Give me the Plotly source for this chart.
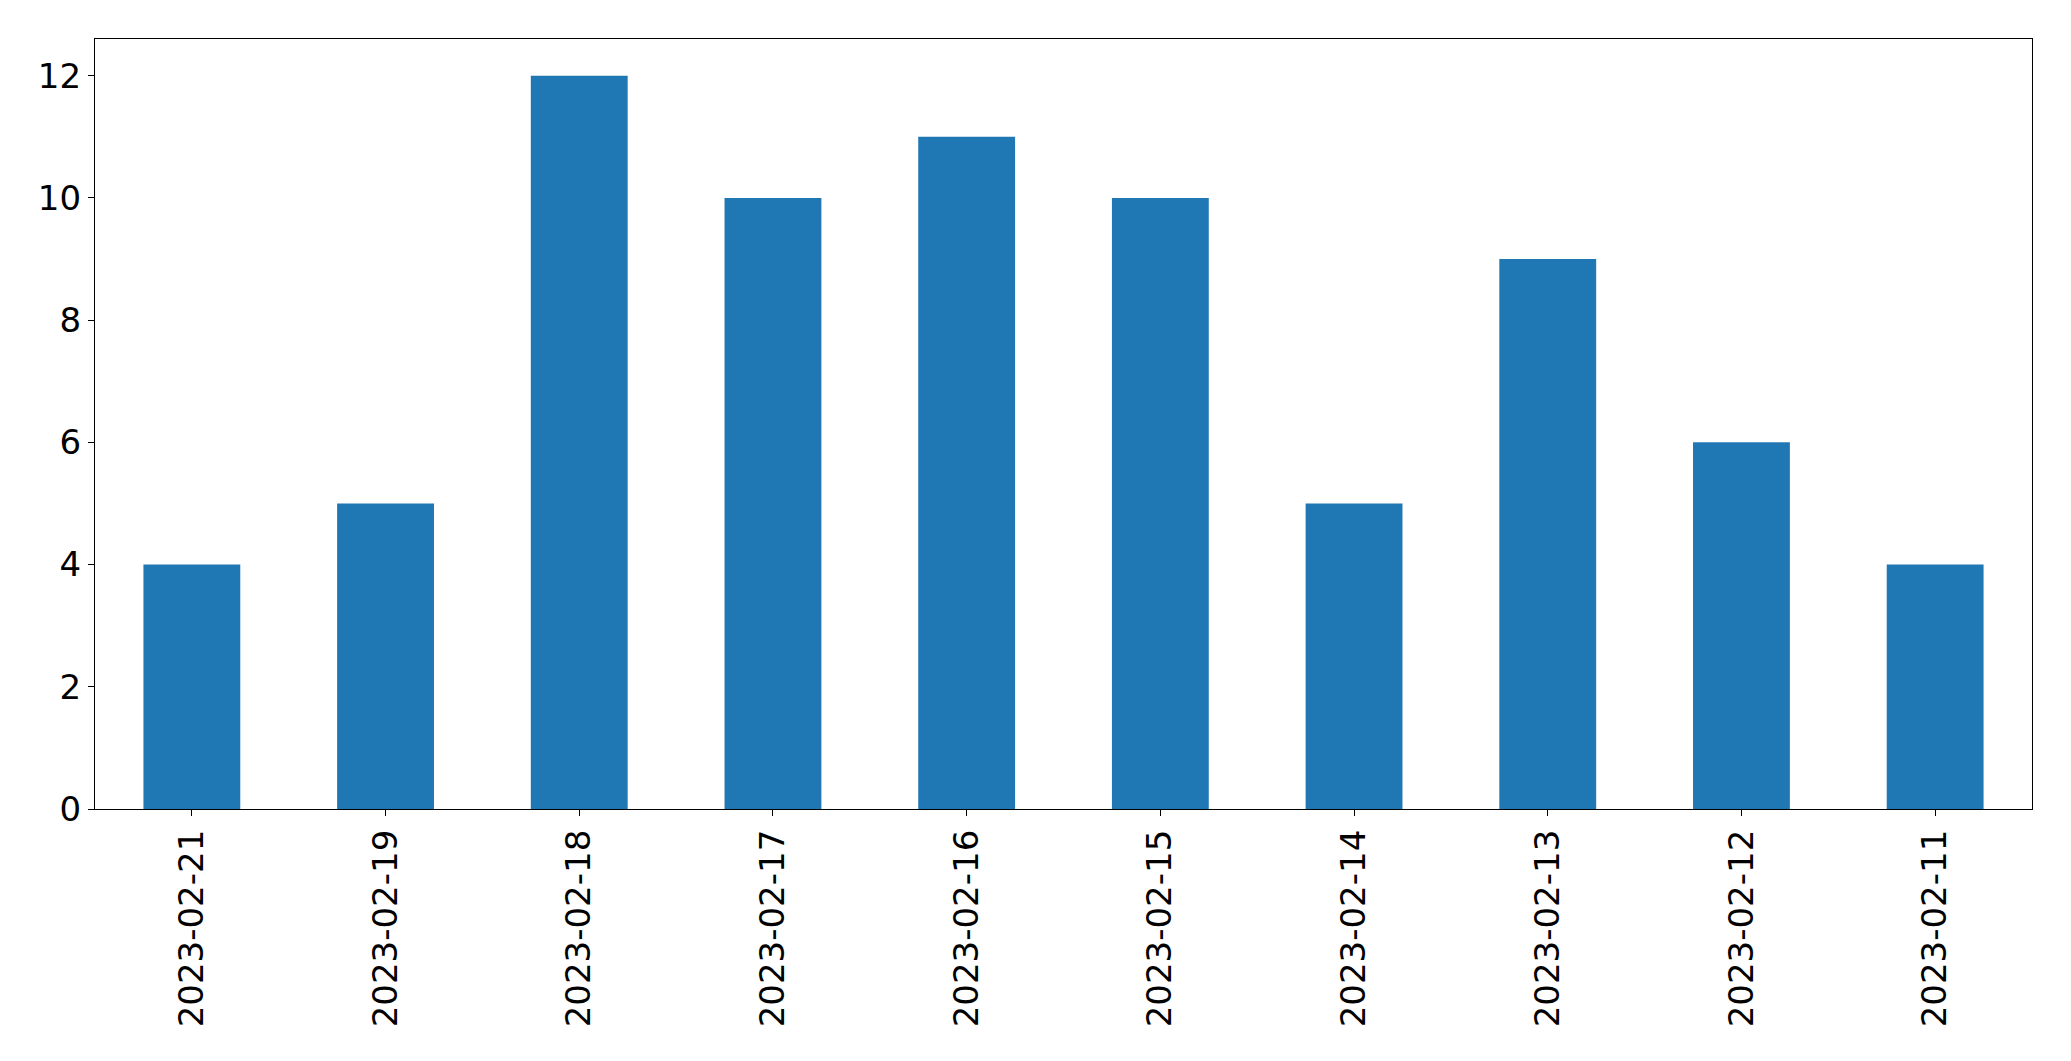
import plotly.graph_objects as go

dates = ["2023-02-21", "2023-02-19", "2023-02-18", "2023-02-17", "2023-02-16",
         "2023-02-15", "2023-02-14", "2023-02-13", "2023-02-12", "2023-02-11"]
counts = [4, 5, 12, 10, 11, 10, 5, 9, 6, 4]

fig = go.Figure(go.Bar(x=dates, y=counts, marker=dict(color="#1f77b4", line=dict(width=0))))

axis_common = dict(
    showline=True, linecolor="black", linewidth=1.3, mirror=True,
    showgrid=False, zeroline=False,
    ticks="outside", ticklen=6, tickwidth=1.3, tickcolor="black",
    tickfont=dict(family="DejaVu Sans", size=34, color="black"),
)

fig.update_layout(
    width=2071, height=1061,
    margin=dict(l=95, r=39, t=39, b=252),
    paper_bgcolor="white", plot_bgcolor="white",
    bargap=0.5, showlegend=False,
    xaxis=dict(type="category", range=[-0.5, 9.5], tickangle=-90, **axis_common),
    yaxis=dict(range=[0, 12.6], tickvals=[0, 2, 4, 6, 8, 10, 12], **axis_common),
)

fig.write_html("out.html")
